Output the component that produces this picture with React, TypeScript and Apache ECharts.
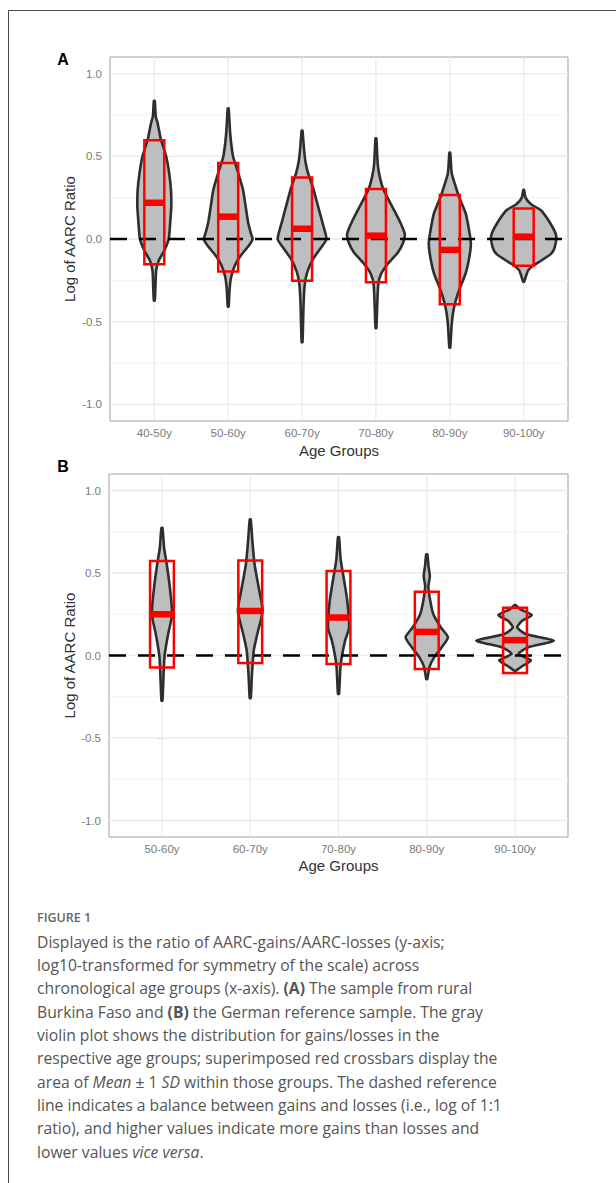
import React, { useEffect, useRef } from "react";
import * as echarts from "echarts";

// ---------- DATA ----------
const groupsA = ["40-50y", "50-60y", "60-70y", "70-80y", "80-90y", "90-100y"];
const groupsB = ["50-60y", "60-70y", "70-80y", "80-90y", "90-100y"];

const yTicks = [-1, -0.5, 0, 0.5, 1];
const yMinorTicks = [-0.75, -0.25, 0.25, 0.75];

// crossbars (Mean - 1 SD, Mean, Mean + 1 SD)
const lowA = [-0.153, -0.197, -0.253, -0.261, -0.394, -0.161];
const meanA = [0.219, 0.135, 0.062, 0.02, -0.066, 0.014];
const highA = [0.597, 0.46, 0.372, 0.302, 0.266, 0.185];

const lowB = [-0.072, -0.046, -0.052, -0.082, -0.106];
const meanB = [0.25, 0.27, 0.23, 0.143, 0.093];
const highB = [0.572, 0.576, 0.512, 0.387, 0.29];

// violin outlines: [log ratio, half width in category units]
const violinA1 = [[0.835, 0.006], [0.74, 0.02], [0.7, 0.045], [0.6, 0.09], [0.5, 0.16], [0.4, 0.2], [0.3, 0.225], [0.2, 0.23], [0.1, 0.215], [0.0, 0.195], [-0.07, 0.135], [-0.13, 0.06], [-0.19, 0.025], [-0.3, 0.014], [-0.372, 0.006]];
const violinA2 = [[0.789, 0.006], [0.65, 0.025], [0.58, 0.04], [0.5, 0.065], [0.4, 0.135], [0.3, 0.2], [0.2, 0.235], [0.1, 0.27], [0.03, 0.31], [0.0, 0.33], [-0.04, 0.28], [-0.1, 0.17], [-0.16, 0.09], [-0.23, 0.04], [-0.3, 0.02], [-0.408, 0.006]];
const violinA3 = [[0.654, 0.006], [0.55, 0.025], [0.47, 0.045], [0.4, 0.08], [0.3, 0.155], [0.2, 0.215], [0.1, 0.275], [0.0, 0.33], [-0.05, 0.26], [-0.12, 0.15], [-0.2, 0.07], [-0.28, 0.035], [-0.4, 0.02], [-0.624, 0.006]];
const violinA4 = [[0.608, 0.006], [0.45, 0.025], [0.38, 0.05], [0.3, 0.1], [0.2, 0.215], [0.1, 0.33], [0.03, 0.39], [-0.02, 0.37], [-0.08, 0.3], [-0.145, 0.17], [-0.21, 0.07], [-0.28, 0.03], [-0.539, 0.006]];
const violinA5 = [[0.521, 0.006], [0.4, 0.025], [0.33, 0.07], [0.255, 0.125], [0.155, 0.215], [0.055, 0.26], [-0.026, 0.285], [-0.107, 0.265], [-0.207, 0.215], [-0.31, 0.125], [-0.408, 0.06], [-0.51, 0.027], [-0.656, 0.006]];
const violinA6 = [[0.296, 0.006], [0.25, 0.025], [0.21, 0.1], [0.175, 0.23], [0.095, 0.36], [0.02, 0.44], [-0.05, 0.42], [-0.09, 0.37], [-0.127, 0.25], [-0.16, 0.13], [-0.19, 0.06], [-0.258, 0.006]];

const violinB1 = [[0.773, 0.006], [0.65, 0.025], [0.55, 0.055], [0.41, 0.09], [0.25, 0.115], [0.13, 0.07], [0.0, 0.03], [-0.09, 0.02], [-0.274, 0.006]];
const violinB2 = [[0.824, 0.006], [0.69, 0.025], [0.55, 0.05], [0.4, 0.1], [0.27, 0.14], [0.13, 0.08], [0.03, 0.04], [-0.11, 0.02], [-0.258, 0.006]];
const violinB3 = [[0.717, 0.006], [0.58, 0.025], [0.45, 0.065], [0.33, 0.1], [0.17, 0.12], [0.09, 0.075], [0.0, 0.04], [-0.07, 0.022], [-0.233, 0.006]];
const violinB4 = [[0.613, 0.006], [0.54, 0.02], [0.48, 0.035], [0.42, 0.018], [0.33, 0.04], [0.25, 0.075], [0.17, 0.16], [0.11, 0.24], [0.05, 0.17], [-0.01, 0.085], [-0.07, 0.03], [-0.143, 0.006]];
const violinB5 = [[0.306, 0.006], [0.28, 0.06], [0.245, 0.19], [0.21, 0.08], [0.17, 0.025], [0.13, 0.12], [0.09, 0.44], [0.05, 0.15], [0.01, 0.04], [-0.03, 0.18], [-0.065, 0.08], [-0.092, 0.01]];

const violinsA = [violinA1, violinA2, violinA3, violinA4, violinA5, violinA6];
const violinsB = [violinB1, violinB2, violinB3, violinB4, violinB5];

const captionLines = [
  "Displayed is the ratio of AARC-gains/AARC-losses (y-axis;",
  "log10-transformed for symmetry of the scale) across",
  "chronological age groups (x-axis). {b|(A)} The sample from rural",
  "Burkina Faso and {b|(B)} the German reference sample. The gray",
  "violin plot shows the distribution for gains/losses in the",
  "respective age groups; superimposed red crossbars display the",
  "area of {i|Mean} ± 1 {i|SD} within those groups. The dashed reference",
  "line indicates a balance between gains and losses (i.e., log of 1:1",
  "ratio), and higher values indicate more gains than losses and",
  "lower values {i|vice versa}.",
];

// ---------- STYLE ----------
const PLOT_FONT = "'Liberation Sans', Arial, Helvetica, sans-serif";
const CAP_FONT = "'Open Sans', 'Noto Sans', sans-serif";
const CAP_SIZE = 15.7;
const CROSS_HALF = 0.135;

function violinRender(profiles: number[][][]) {
  return (params: any, api: any) => {
    const prof = profiles[params.dataIndex];
    const c = api.value(0);
    const pts: number[][] = [];
    for (const [v, h] of prof) pts.push(api.coord([c + h, v]));
    for (let i = prof.length - 1; i >= 0; i--) {
      const [v, h] = prof[i];
      pts.push(api.coord([c - h, v]));
    }
    return {
      type: "polygon",
      shape: { points: pts, smooth: 0.2 },
      style: { fill: "#bebebe", stroke: "#2e2e2e", lineWidth: 2.6, lineJoin: "round" },
    };
  };
}

function crossbarRender(params: any, api: any) {
  const c = api.value(0);
  const lo = api.value(1);
  const mid = api.value(2);
  const hi = api.value(3);
  const p1 = api.coord([c - CROSS_HALF, hi]);
  const p2 = api.coord([c + CROSS_HALF, lo]);
  const m1 = api.coord([c - CROSS_HALF, mid]);
  const m2 = api.coord([c + CROSS_HALF, mid]);
  return {
    type: "group",
    children: [
      {
        type: "rect",
        shape: { x: p1[0], y: p1[1], width: p2[0] - p1[0], height: p2[1] - p1[1] },
        style: { fill: "none", stroke: "#ff0000", lineWidth: 2.5 },
      },
      {
        type: "line",
        shape: { x1: m1[0], y1: m1[1], x2: m2[0], y2: m2[1] },
        style: { stroke: "#ff0000", lineWidth: 6.5 },
      },
    ],
  };
}

function gridRender(nCats: number) {
  return (params: any, api: any) => {
    const cs = params.coordSys;
    const children: any[] = [];
    for (const v of yMinorTicks) {
      const y = api.coord([0, v])[1];
      children.push({ type: "line", shape: { x1: cs.x, y1: y, x2: cs.x + cs.width, y2: y }, style: { stroke: "#f3f3f3", lineWidth: 1 } });
    }
    for (const v of yTicks) {
      const y = api.coord([0, v])[1];
      children.push({ type: "line", shape: { x1: cs.x, y1: y, x2: cs.x + cs.width, y2: y }, style: { stroke: "#ebebeb", lineWidth: 1.3 } });
    }
    for (let i = 0; i < nCats; i++) {
      const x = api.coord([i, 0])[0];
      children.push({ type: "line", shape: { x1: x, y1: cs.y, x2: x, y2: cs.y + cs.height }, style: { stroke: "#ebebeb", lineWidth: 1.3 } });
    }
    return { type: "group", children };
  };
}

function xAxisFor(gridIndex: number, cats: string[]) {
  const idx = cats.map((_, i) => i);
  return {
    type: "value",
    gridIndex,
    min: -0.6,
    max: cats.length - 0.4,
    axisLine: { show: false },
    splitLine: { show: false },
    axisTick: { show: true, customValues: idx, length: 4, lineStyle: { color: "#8c8c8c", width: 1 } },
    axisLabel: {
      customValues: idx,
      formatter: (v: number) => cats[Math.round(v)] ?? "",
      margin: 6,
      fontSize: 11.5,
      color: "#7a7a7a",
      fontFamily: PLOT_FONT,
    },
  };
}

function yAxisFor(gridIndex: number) {
  return {
    type: "value",
    gridIndex,
    min: -1.1,
    max: 1.1,
    axisLine: { show: false },
    splitLine: { show: false },
    axisTick: { show: true, customValues: yTicks, length: 4, lineStyle: { color: "#8c8c8c", width: 1 } },
    axisLabel: {
      customValues: yTicks,
      formatter: (v: number) => v.toFixed(1),
      margin: 8,
      fontSize: 11.5,
      color: "#7a7a7a",
      fontFamily: PLOT_FONT,
    },
  };
}

function text(x: number, y: number, str: string, extra: any = {}, rotation = 0) {
  return {
    type: "text",
    x,
    y,
    rotation,
    silent: true,
    style: {
      text: str,
      fill: extra.fill ?? "#333",
      fontSize: extra.fontSize ?? 15,
      fontFamily: extra.fontFamily ?? PLOT_FONT,
      fontWeight: extra.fontWeight ?? "normal",
      align: extra.align ?? "center",
      textAlign: extra.align ?? "center",
      verticalAlign: "middle",
      textVerticalAlign: "middle",
      rich: extra.rich,
    },
  };
}

export default function App() {
  const ref = useRef<HTMLDivElement>(null);

  useEffect(() => {
    if (!ref.current) return;
    const chart = echarts.init(ref.current, undefined, { renderer: "svg" });

    const capRich = {
      b: { fontWeight: "bold", fontSize: CAP_SIZE, fontFamily: CAP_FONT, fill: "#555" },
      i: { fontStyle: "italic", fontSize: CAP_SIZE, fontFamily: CAP_FONT, fill: "#555" },
    };

    const graphics: any[] = [
      {
        type: "rect",
        silent: true,
        shape: { x: 8.5, y: 10.5, width: 800, height: 1400 },
        style: { fill: "none", stroke: "#4a4a4a", lineWidth: 1 },
      },
      text(63, 59, "A", { fontSize: 16, fontWeight: "bold", fill: "#000" }),
      text(63, 466, "B", { fontSize: 16, fontWeight: "bold", fill: "#000" }),
      text(339, 450, "Age Groups"),
      text(338.5, 865.5, "Age Groups"),
      text(69, 239, "Log of AARC Ratio", {}, Math.PI / 2),
      text(69, 655.5, "Log of AARC Ratio", {}, Math.PI / 2),
      text(37, 917, "FIGURE 1", { align: "left", fontSize: 12.5, fontFamily: CAP_FONT, fontWeight: 600, fill: "#666" }),
    ];
    captionLines.forEach((line, i) => {
      graphics.push(
        text(37, 941.7 + i * 23.33, line, { align: "left", fontSize: CAP_SIZE, fontFamily: CAP_FONT, fill: "#555", rich: capRich })
      );
    });

    const option: any = {
      animation: false,
      backgroundColor: "#ffffff",
      grid: [
        { left: 110, top: 57, width: 458, height: 364, show: true, borderColor: "#a0a0a0", borderWidth: 1, backgroundColor: "transparent" },
        { left: 109, top: 474, width: 459, height: 363, show: true, borderColor: "#a0a0a0", borderWidth: 1, backgroundColor: "transparent" },
      ],
      xAxis: [xAxisFor(0, groupsA), xAxisFor(1, groupsB)],
      yAxis: [yAxisFor(0), yAxisFor(1)],
      series: [
        // panel A
        { type: "custom", xAxisIndex: 0, yAxisIndex: 0, z: 1, silent: true, renderItem: gridRender(groupsA.length), data: [[0, 0]] },
        { type: "custom", xAxisIndex: 0, yAxisIndex: 0, z: 2, silent: true, renderItem: violinRender(violinsA), data: groupsA.map((_, i) => [i, 0]) },
        {
          type: "line", xAxisIndex: 0, yAxisIndex: 0, z: 3, silent: true, symbol: "none",
          data: [[-0.6, 0], [groupsA.length - 0.4, 0]],
          lineStyle: { color: "#000", width: 2.4, type: [17, 12] },
        },
        {
          type: "custom", xAxisIndex: 0, yAxisIndex: 0, z: 4, silent: true, renderItem: crossbarRender,
          encode: { x: 0, y: [1, 2, 3] },
          data: groupsA.map((_, i) => [i, lowA[i], meanA[i], highA[i]]),
        },
        // panel B
        { type: "custom", xAxisIndex: 1, yAxisIndex: 1, z: 1, silent: true, renderItem: gridRender(groupsB.length), data: [[0, 0]] },
        { type: "custom", xAxisIndex: 1, yAxisIndex: 1, z: 2, silent: true, renderItem: violinRender(violinsB), data: groupsB.map((_, i) => [i, 0]) },
        {
          type: "line", xAxisIndex: 1, yAxisIndex: 1, z: 3, silent: true, symbol: "none",
          data: [[-0.6, 0], [groupsB.length - 0.4, 0]],
          lineStyle: { color: "#000", width: 2.4, type: [17, 12] },
        },
        {
          type: "custom", xAxisIndex: 1, yAxisIndex: 1, z: 4, silent: true, renderItem: crossbarRender,
          encode: { x: 0, y: [1, 2, 3] },
          data: groupsB.map((_, i) => [i, lowB[i], meanB[i], highB[i]]),
        },
      ],
      graphic: { elements: graphics },
    };

    chart.setOption(option);
    return () => chart.dispose();
  }, []);

  return (
    <div
      ref={ref}
      style={{ position: "absolute", left: 0, top: 0, width: 616, height: 1183, background: "#fff" }}
    />
  );
}
